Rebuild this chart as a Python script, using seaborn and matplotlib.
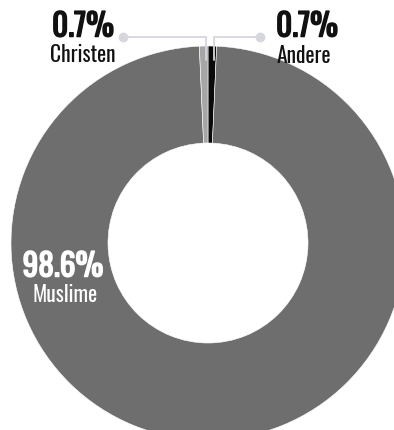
import matplotlib
matplotlib.use("Agg")
import matplotlib.pyplot as plt
import matplotlib.patheffects as pe
import seaborn as sns
from matplotlib import font_manager

categories = ["Andere", "Muslime", "Christen"]
values = [0.7, 98.6, 0.7]
colors = ["#0a0a0a", "#6e6e6e", "#a6a6a6"]
pct_labels = ["0.7%", "98.6%", "0.7%"]

sns.set_theme(style="white")
names = {f.name for f in font_manager.fontManager.ttflist}
prefs = ["Oswald", "Fjalla One", "Antonio", "Barlow Condensed", "Roboto Condensed",
         "Asap Condensed", "DejaVu Sans"]
fam = [n for n in prefs if n in names][:1] + ["DejaVu Sans"]
plt.rcParams["font.family"] = fam

W, H = 394, 430
fig = plt.figure(figsize=(W / 100, H / 100), dpi=100)
cx, cy, R = 208, 243, 197
ax = fig.add_axes([(cx - R) / W, (H - cy - R) / H, 2 * R / W, 2 * R / H])
ax.pie(values, colors=colors, startangle=90, counterclock=False, radius=1,
       wedgeprops=dict(width=1 - 100 / 197, edgecolor="white", linewidth=0.4))
ax.set_xlim(-1, 1)
ax.set_ylim(-1, 1)
ax.set_aspect("equal")
ax.axis("off")

def P(px, py):
    return ((px - cx) / R, (cy - py) / R)

lc = "#d6d6de"
for pts, dot in [([(123, 37), (206, 37), (206, 60)], (123, 37)),
                 ([(260, 37), (214, 37), (214, 60)], (260, 37))]:
    xs, ys = zip(*[P(*p) for p in pts])
    ax.plot(xs, ys, color=lc, lw=1.3, clip_on=False, zorder=1)
    ax.plot(*P(*dot), "o", color=lc, ms=6, clip_on=False, zorder=1)

def txt(px, py, s, size, color="#111111", stroke=0.0):
    t = ax.text(*P(px, py), s, ha="center", va="center", fontsize=size,
                color=color, clip_on=False)
    if stroke:
        t.set_path_effects([pe.withStroke(linewidth=stroke, foreground=color)])

txt(83, 27, pct_labels[2], 22.5, stroke=1.1)
txt(83, 55, categories[2], 15.5)
txt(307, 27, pct_labels[0], 22.5, stroke=1.1)
txt(304, 56, categories[0], 15.5)
txt(63, 267, pct_labels[1], 22.5, color="white", stroke=1.1)
txt(65, 295, categories[1], 15.5, color="white")

fig.savefig("out.png", dpi=100)
